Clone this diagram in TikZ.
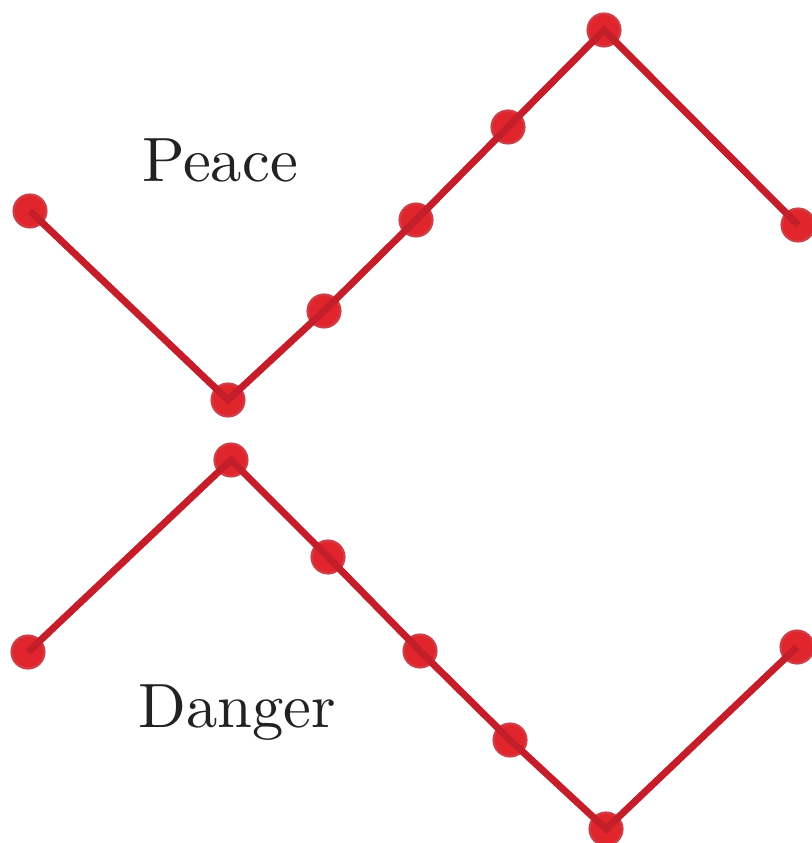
\documentclass[tikz,border=0pt]{standalone}
\usepackage{xcolor}
\usepackage{tikz}
\usetikzlibrary{backgrounds}
\definecolor{figRed}{HTML}{C41E2A}
\definecolor{dotRed}{HTML}{E0262C}
\definecolor{figInk}{HTML}{222222}
\font\wordfont="[lmroman10-regular.otf]" at 17.8pt

\begin{document}
\begin{tikzpicture}[
  x=0.01cm, y=-0.01cm,
  dot/.style={
    circle, fill=dotRed, draw=figRed!85, line width=0.6pt,
    minimum size=0.33cm, inner sep=0pt,
  },
  link/.style={figRed, line width=2pt, line cap=butt},
  word/.style={font=\wordfont, text=figInk, anchor=base},
]
\useasboundingbox (0,0) rectangle (811,843);

% Upper path: Peace
\node[dot] (p1) at (30,211) {};
\node[dot] (p2) at (228,400) {};
\node[dot] (p3) at (324,311) {};
\node[dot] (p4) at (416,220) {};
\node[dot] (p5) at (508,127) {};
\node[dot] (p6) at (604,30) {};
\node[dot] (p7) at (798,225) {};
\node[word] (peace) at (220,182) {Peace};

% Lower path: Danger
\node[dot] (d1) at (28,652) {};
\node[dot] (d2) at (231,460) {};
\node[dot] (d3) at (328,557) {};
\node[dot] (d4) at (420,651) {};
\node[dot] (d5) at (510,740) {};
\node[dot] (d6) at (606,829) {};
\node[dot] (d7) at (797,647) {};
\node[word] (danger) at (237,727) {Danger};

% Links on top of the dots
\draw[link] (p1.center) -- (p2.center) -- (p3.center) -- (p4.center)
  -- (p5.center) -- (p6.center) -- (p7.center);
\draw[link] (d1.center) -- (d2.center) -- (d3.center) -- (d4.center)
  -- (d5.center) -- (d6.center) -- (d7.center);

\end{tikzpicture}
\end{document}
